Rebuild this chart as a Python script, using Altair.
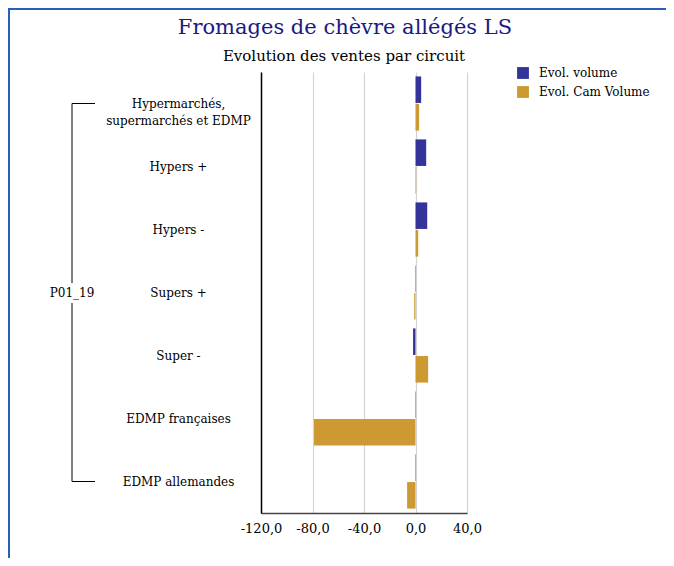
import altair as alt
import pandas as pd

categories = [
    "Hypermarchés, supermarchés et EDMP",
    "Hypers +",
    "Hypers -",
    "Supers +",
    "Super -",
    "EDMP françaises",
    "EDMP allemandes",
]
series = ["Evol. volume", "Evol. Cam Volume"]
evol_volume = [4.4, 8.3, 9.1, 0.3, -1.9, -0.3, -0.3]
evol_cam_volume = [2.8, 0.5, 2.1, -1.0, 9.8, -78.8, -6.5]
x_ticks = [-120, -80, -40, 0, 40]
group_label = "P01_19"
title_text = "Fromages de chèvre allégés LS"
subtitle_text = "Evolution des ventes par circuit"

rows = []
for i, c in enumerate(categories):
    rows.append({"circuit": c, "serie": series[0], "valeur": evol_volume[i]})
    rows.append({"circuit": c, "serie": series[1], "valeur": evol_cam_volume[i]})
df = pd.DataFrame(rows)

W, H = 206, 441
PL, PT, PR, PB = 253, 64, 199, 45
FONT = "DejaVu Serif"

bars = alt.Chart(df).mark_bar().encode(
    y=alt.Y(
        "circuit:N",
        sort=categories,
        scale=alt.Scale(paddingInner=0.14, paddingOuter=0.07),
        axis=alt.Axis(
            title=None,
            ticks=False,
            domain=True,
            domainColor="#000000",
            domainWidth=1.5,
            labelAlign="center",
            labelBaseline="middle",
            labelPadding=83,
            labelLimit=300,
            labelFont=FONT,
            labelFontSize=12,
            labelColor="#000000",
            labelLineHeight=17,
            labelExpr="datum.label == 'Hypermarchés, supermarchés et EDMP' ? ['Hypermarchés,', 'supermarchés et EDMP'] : datum.label",
        ),
    ),
    yOffset=alt.YOffset("serie:N", sort=series, scale=alt.Scale(paddingInner=0.04)),
    x=alt.X(
        "valeur:Q",
        scale=alt.Scale(domain=[-120, 40], nice=False, zero=False),
        axis=alt.Axis(
            title=None,
            values=x_ticks,
            ticks=False,
            grid=True,
            gridColor="#d4d4d4",
            gridWidth=1.2,
            domainColor="#444444",
            domainWidth=1.5,
            labelFont=FONT,
            labelFontSize=13,
            labelColor="#000000",
            labelPadding=9,
            labelOverlap=False,
            labelFlush=False,
            labelExpr="replace(replace(format(datum.value, '.1f'), '.', ','), '\u2212', '-')",
        ),
    ),
    color=alt.Color(
        "serie:N",
        sort=series,
        scale=alt.Scale(domain=series, range=["#333399", "#CC9933"]),
        legend=alt.Legend(
            title=None,
            orient="none",
            legendX=256,
            legendY=-5,
            symbolType="square",
            symbolSize=140,
            symbolStrokeWidth=0,
            labelFont=FONT,
            labelFontSize=12,
            labelColor="#000000",
            rowPadding=7,
            labelOffset=10,
        ),
    ),
)

base = alt.Chart(pd.DataFrame({"d": [0]}))
bx = -189
rule_style = dict(color="#000000", strokeWidth=1)
v1 = base.mark_rule(**rule_style).encode(x=alt.value(bx), y=alt.value(31.5), y2=alt.value(211))
v2 = base.mark_rule(**rule_style).encode(x=alt.value(bx), y=alt.value(231), y2=alt.value(409.5))
h1 = base.mark_rule(**rule_style).encode(x=alt.value(bx), x2=alt.value(-166), y=alt.value(31.5))
h2 = base.mark_rule(**rule_style).encode(x=alt.value(bx), x2=alt.value(-166), y=alt.value(409.5))
ptxt = base.mark_text(font=FONT, fontSize=12, color="#000000", align="center", baseline="middle").encode(
    x=alt.value(bx), y=alt.value(221), text=alt.value(group_label)
)

t1 = base.mark_text(font=FONT, fontSize=21, color="#1a1a80", align="center", baseline="alphabetic").encode(
    x=alt.value(84), y=alt.value(-38), text=alt.value(title_text)
)
t2 = base.mark_text(font=FONT, fontSize=15, color="#000000", align="center", baseline="alphabetic").encode(
    x=alt.value(83), y=alt.value(-11), text=alt.value(subtitle_text)
)

frame_style = dict(color="#2a5fb8", strokeWidth=2)
f1 = base.mark_rule(**frame_style).encode(x=alt.value(-PL), x2=alt.value(W + PR), y=alt.value(-PT + 1))
f2 = base.mark_rule(**frame_style).encode(x=alt.value(-PL + 1), y=alt.value(-PT), y2=alt.value(H + PB))

chart = alt.layer(bars, v1, v2, h1, h2, ptxt, t1, t2, f1, f2).properties(
    width=W,
    height=H,
    padding={"left": PL, "top": PT, "right": PR, "bottom": PB},
    autosize=alt.AutoSizeParams(type="none"),
).configure_view(stroke=None)

chart.save("out.html", embed_options={"renderer": "svg", "actions": False})
